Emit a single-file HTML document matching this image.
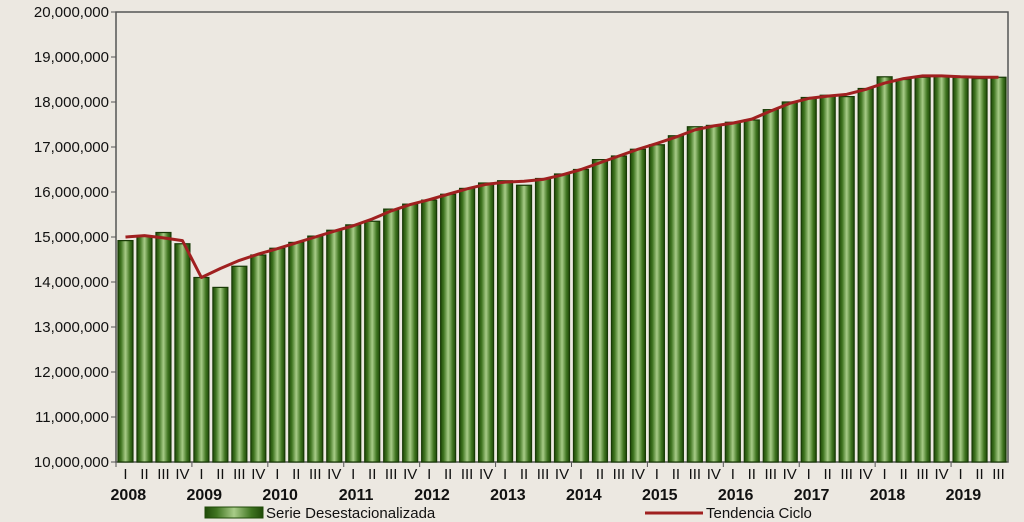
<!DOCTYPE html>
<html><head><meta charset="utf-8"><style>
body{margin:0;background:#ece8e1;font-family:"Liberation Sans",sans-serif}
svg{display:block}
</style></head><body>
<svg width="1024" height="522" viewBox="0 0 1024 522" id="c">
<defs>
<linearGradient id="bg" x1="0" x2="1" y1="0" y2="0">
<stop offset="0" stop-color="#1f4a08"/><stop offset="0.2" stop-color="#3f7420"/><stop offset="0.5" stop-color="#a8cc88"/><stop offset="0.8" stop-color="#3f7420"/><stop offset="1" stop-color="#1f4a08"/>
</linearGradient>
</defs>
<rect x="116" y="12" width="892" height="450" fill="#ece8e1" stroke="#555" stroke-width="1.5"/>
<g id="bars"></g><g id="axes"></g>
<g>
<rect x="205" y="507" width="58" height="11" fill="url(#bg)" stroke="#1f4a08"/>
<text x="266" y="518" font-size="15" fill="#111">Serie Desestacionalizada</text>
<line x1="645" y1="513" x2="703" y2="513" stroke="#a02020" stroke-width="3"/>
<text x="706" y="518" font-size="15" fill="#111">Tendencia Ciclo</text>
</g>
</svg>
<script>
const years=[2008,2009,2010,2011,2012,2013,2014,2015,2016,2017,2018,2019];
const quarterLabels=["I","II","III","IV"];
const yTicks=[10,11,12,13,14,15,16,17,18,19,20];
const serie=[14.92,15.02,15.1,14.85, 14.1,13.88,14.35,14.6, 14.75,14.88,15.02,15.15, 15.27,15.35,15.62,15.73, 15.82,15.95,16.08,16.2, 16.25,16.15,16.3,16.4, 16.5,16.72,16.8,16.95, 17.05,17.25,17.45,17.48, 17.55,17.6,17.83,18.0, 18.1,18.15,18.12,18.3, 18.56,18.5,18.55,18.58, 18.55,18.52,18.55];
const tendencia=[15.0,15.03,14.98,14.92, 14.1,14.3,14.48,14.62, 14.74,14.87,15.0,15.13, 15.25,15.4,15.58,15.72, 15.83,15.95,16.07,16.17, 16.22,16.24,16.28,16.38, 16.5,16.65,16.8,16.95, 17.08,17.22,17.38,17.47, 17.53,17.62,17.8,17.97, 18.08,18.13,18.17,18.28, 18.42,18.52,18.58,18.58, 18.56,18.55,18.55];
const NS="http://www.w3.org/2000/svg";
const x0=116,x1=1008,yb=462,yt=12,n=serie.length,slot=(x1-x0)/n;
const Y=v=>yb-(v-10)/10*(yb-yt);
const X=i=>x0+i*slot;
function mk(t,a,p){const e=document.createElementNS(NS,t);for(const k in a)e.setAttribute(k,a[k]);p.appendChild(e);return e;}
const bars=document.getElementById('bars'),axes=document.getElementById('axes');
serie.forEach((v,i)=>{
 const r=mk('rect',{x:X(i)+2,y:Y(v),width:slot-4,height:yb-Y(v),fill:'url(#bg)',stroke:'#183a06','stroke-width':1.2},bars);
 
 
});
const pl=mk('polyline',{points:tendencia.map((v,i)=>(X(i)+slot/2)+','+Y(v)).join(' '),fill:'none',stroke:'#a02020','stroke-width':3,'stroke-linejoin':'round'},bars);


yTicks.forEach(v=>{
 mk('line',{x1:x0-5,x2:x0,y1:Y(v),y2:Y(v),stroke:'#555'},axes);
 const t=mk('text',{x:x0-7,y:Y(v)+5,'text-anchor':'end','font-size':15,fill:'#111'},axes);
 t.textContent=(v*1000000).toLocaleString('en-US');
 
 
});
for(let i=0;i<n;i++){
 const q=mk('text',{x:X(i)+slot/2,y:479,'text-anchor':'middle','font-size':15,fill:'#111'},axes);
 q.textContent=quarterLabels[i%4];
 
 
 if(i%4==0) mk('line',{x1:X(i),x2:X(i),y1:yb,y2:yb+5,stroke:'#555'},axes);
}
years.forEach((y,k)=>{
 const t=mk('text',{x:X(k*4)+slot*0.65,y:500,'text-anchor':'middle','font-size':16,'font-weight':'bold',fill:'#111'},axes);
 t.textContent=y;
 
 
});
</script>
</body></html>
